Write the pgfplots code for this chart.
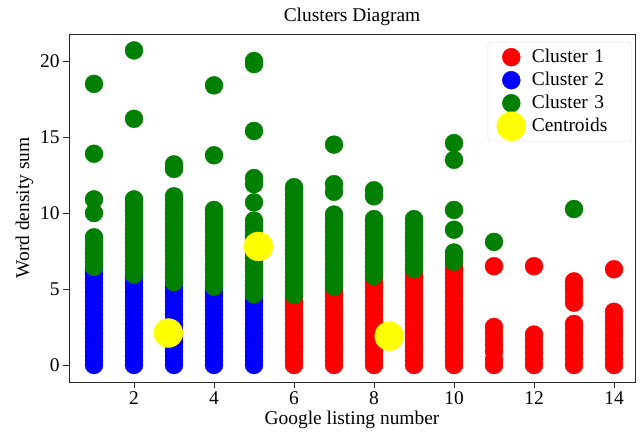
\documentclass[border=0pt]{standalone}
\usepackage{pgfplots}
\pgfplotsset{compat=1.18}
\usepackage{fontspec}
\setmainfont{Liberation Serif}
\definecolor{mred}{RGB}{255,0,0}
\definecolor{mblue}{RGB}{0,0,255}
\definecolor{mgreen}{RGB}{0,128,0}
\definecolor{myellow}{RGB}{255,255,0}
\definecolor{frame}{RGB}{40,40,40}
\pgfplotsset{
  mylegimg/.style={legend image code/.code={%
    \draw[only marks,mark repeat=2,mark phase=2,##1,overlay] plot coordinates {(0bp,0bp) (20bp,0bp) (40bp,0bp)};
    \path[draw=none,fill=none] (0bp,-5bp) rectangle (36bp,5bp);}},
}
\begin{document}
\begin{tikzpicture}
\begin{axis}[
  name=ax,
  scale only axis,
  width=566bp, height=348bp,
  xmin=0.375, xmax=14.525,
  ymin=-1.12, ymax=21.78,
  xtick={2,4,6,8,10,12,14},
  ytick={0,5,10,15,20},
  tick align=outside,
  major tick length=6bp,
  xtick pos=bottom, ytick pos=left,
  axis line style={frame, line width=0.9bp},
  tick style={frame, line width=0.9bp},
  /pgf/number format/assume math mode=true,
  every tick label/.append style={font=\fontsize{19.5}{23}\selectfont},
  label style={font=\fontsize{19.5}{23}\selectfont},
  title style={font=\fontsize{19.5}{23}\selectfont, yshift=-1bp},
  title={Clusters Diagram},
  xlabel={Google listing number},
  ylabel={Word density sum},
  legend cell align=left,
  legend style={at={(0.9947,0.977)}, anchor=north east,
    draw=gray!25, rounded corners=3bp, inner sep=3.5bp,
    font=\fontsize{19.5}{23}\selectfont,
    nodes={inner xsep=4.5bp, inner ysep=2.5bp, text height=14bp, text depth=4bp, text width=92bp, align=left}},
]
% Cluster 1 (red)
\addplot[only marks, mark=*, mark size=9pt, color=mred, mylegimg] coordinates {
(6,0) (6,0.3) (6,0.6) (6,0.9) (6,1.2) (6,1.5) (6,1.8) (6,2.1) (6,2.4) (6,2.7) (6,3.0) (6,3.3) (6,3.6) (6,3.9) (6,4.2) (6,4.45)
(7,0) (7,0.3) (7,0.6) (7,0.9) (7,1.2) (7,1.5) (7,1.8) (7,2.1) (7,2.4) (7,2.7) (7,3.0) (7,3.3) (7,3.6) (7,3.9) (7,4.2) (7,4.5) (7,4.8) (7,5.0)
(8,0) (8,0.3) (8,0.6) (8,0.9) (8,1.2) (8,1.5) (8,1.8) (8,2.1) (8,2.4) (8,2.7) (8,3.0) (8,3.3) (8,3.6) (8,3.9) (8,4.2) (8,4.5) (8,4.8) (8,5.1) (8,5.4) (8,5.7)
(9,0) (9,0.3) (9,0.6) (9,0.9) (9,1.2) (9,1.5) (9,1.8) (9,2.1) (9,2.4) (9,2.7) (9,3.0) (9,3.3) (9,3.6) (9,3.9) (9,4.2) (9,4.5) (9,4.8) (9,5.1) (9,5.4) (9,5.7) (9,6.0) (9,6.15)
(10,0) (10,0.3) (10,0.6) (10,0.9) (10,1.2) (10,1.5) (10,1.8) (10,2.1) (10,2.4) (10,2.7) (10,3.0) (10,3.3) (10,3.6) (10,3.9) (10,4.2) (10,4.5) (10,4.8) (10,5.1) (10,5.4) (10,5.7) (10,6.0) (10,6.3) (10,6.65)
(11,0) (11,0.35) (11,0.9) (11,1.3) (11,1.7) (11,2.1) (11,2.5) (11,6.5)
(12,0) (12,0.4) (12,0.8) (12,1.2) (12,1.6) (12,2.0) (12,6.5)
(13,0) (13,0.4) (13,0.8) (13,1.2) (13,1.6) (13,2.0) (13,2.4) (13,2.7) (13,4.1) (13,4.5) (13,4.9) (13,5.2) (13,5.5)
(14,0) (14,0.4) (14,0.8) (14,1.2) (14,1.6) (14,2.0) (14,2.4) (14,2.8) (14,3.1) (14,3.5) (14,6.3)
};
% Cluster 2 (blue)
\addplot[only marks, mark=*, mark size=9pt, color=mblue, mylegimg] coordinates {
(1,0) (1,0.3) (1,0.6) (1,0.9) (1,1.2) (1,1.5) (1,1.8) (1,2.1) (1,2.4) (1,2.7) (1,3.0) (1,3.3) (1,3.6) (1,3.9) (1,4.2) (1,4.5) (1,4.8) (1,5.1) (1,5.4) (1,5.7) (1,6.0) (1,6.3)
(2,0) (2,0.3) (2,0.6) (2,0.9) (2,1.2) (2,1.5) (2,1.8) (2,2.1) (2,2.4) (2,2.7) (2,3.0) (2,3.3) (2,3.6) (2,3.9) (2,4.2) (2,4.5) (2,4.8) (2,5.1) (2,5.4) (2,5.7) (2,5.8)
(3,0) (3,0.3) (3,0.6) (3,0.9) (3,1.2) (3,1.5) (3,1.8) (3,2.1) (3,2.4) (3,2.7) (3,3.0) (3,3.3) (3,3.6) (3,3.9) (3,4.2) (3,4.5) (3,4.8) (3,5.1) (3,5.3)
(4,0) (4,0.3) (4,0.6) (4,0.9) (4,1.2) (4,1.5) (4,1.8) (4,2.1) (4,2.4) (4,2.7) (4,3.0) (4,3.3) (4,3.6) (4,3.9) (4,4.2) (4,4.5) (4,4.8) (4,5.0)
(5,0) (5,0.3) (5,0.6) (5,0.9) (5,1.2) (5,1.5) (5,1.8) (5,2.1) (5,2.4) (5,2.7) (5,3.0) (5,3.3) (5,3.6) (5,3.9) (5,4.2) (5,4.5)
};
% Cluster 3 (green)
\addplot[only marks, mark=*, mark size=9pt, color=mgreen, mylegimg] coordinates {
(1,6.45) (1,6.75) (1,7.05) (1,7.35) (1,7.65) (1,7.95) (1,8.25) (1,8.4) (1,10.0) (1,10.9) (1,13.9) (1,18.5)
(2,5.95) (2,6.25) (2,6.55) (2,6.85) (2,7.15) (2,7.45) (2,7.75) (2,8.05) (2,8.35) (2,8.65) (2,8.95) (2,9.25) (2,9.55) (2,9.85) (2,10.15) (2,10.45) (2,10.75) (2,10.9) (2,16.2) (2,20.7)
(3,5.45) (3,5.75) (3,6.05) (3,6.35) (3,6.65) (3,6.95) (3,7.25) (3,7.55) (3,7.85) (3,8.15) (3,8.45) (3,8.75) (3,9.05) (3,9.35) (3,9.65) (3,9.95) (3,10.25) (3,10.55) (3,10.85) (3,11.1) (3,12.9) (3,13.2)
(4,5.15) (4,5.45) (4,5.75) (4,6.05) (4,6.35) (4,6.65) (4,6.95) (4,7.25) (4,7.55) (4,7.85) (4,8.15) (4,8.45) (4,8.75) (4,9.05) (4,9.35) (4,9.65) (4,9.95) (4,10.2) (4,13.8) (4,18.4)
(5,4.65) (5,4.95) (5,5.25) (5,5.55) (5,5.85) (5,6.15) (5,6.45) (5,6.75) (5,7.05) (5,7.35) (5,7.65) (5,7.95) (5,8.25) (5,8.55) (5,8.85) (5,9.15) (5,9.5) (5,10.7) (5,11.9) (5,12.3) (5,15.4) (5,19.8) (5,20.0)
(6,4.6) (6,4.9) (6,5.2) (6,5.5) (6,5.8) (6,6.1) (6,6.4) (6,6.7) (6,7.0) (6,7.3) (6,7.6) (6,7.9) (6,8.2) (6,8.5) (6,8.8) (6,9.1) (6,9.4) (6,9.7) (6,10.0) (6,10.3) (6,10.6) (6,10.9) (6,11.2) (6,11.5) (6,11.7)
(7,5.15) (7,5.45) (7,5.75) (7,6.05) (7,6.35) (7,6.65) (7,6.95) (7,7.25) (7,7.55) (7,7.85) (7,8.15) (7,8.45) (7,8.75) (7,9.05) (7,9.35) (7,9.65) (7,9.9) (7,11.4) (7,11.9) (7,14.5)
(8,5.85) (8,6.15) (8,6.45) (8,6.75) (8,7.05) (8,7.35) (8,7.65) (8,7.95) (8,8.25) (8,8.55) (8,8.85) (8,9.15) (8,9.45) (8,9.6) (8,11.1) (8,11.5)
(9,6.3) (9,6.6) (9,6.9) (9,7.2) (9,7.5) (9,7.8) (9,8.1) (9,8.4) (9,8.7) (9,9.0) (9,9.3) (9,9.6)
(10,6.8) (10,7.1) (10,7.4) (10,8.9) (10,10.2) (10,13.5) (10,14.6)
(11,8.1)
(13,10.26)
};
% Centroids
\addplot[only marks, mark=*, mark size=14.5pt, color=myellow, mylegimg] coordinates {
(2.86,2.1) (5.11,7.8) (8.38,1.9)
};
\legend{Cluster 1, Cluster 2, Cluster 3, Centroids}
\end{axis}
\path ([shift={(-69bp,-52bp)}]ax.south west) rectangle ([shift={(8bp,34bp)}]ax.north east);
\end{tikzpicture}
\end{document}
